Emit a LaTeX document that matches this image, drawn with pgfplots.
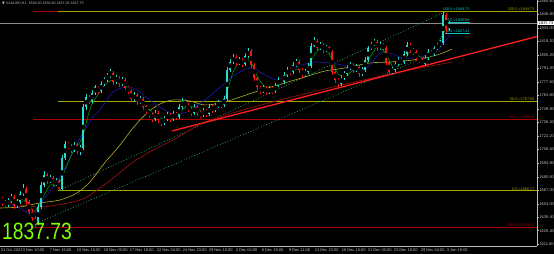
\documentclass[border=0pt]{standalone}
\usepackage{pgfplots}
\pgfplotsset{compat=1.18}
\usepackage{pgfplotstable}
\usepackage{fontspec}
\setmainfont{Liberation Sans}
\newfontfamily\dejavu{DejaVu Sans}
\definecolor{fibY}{RGB}{165,165,0}
\definecolor{fibR}{RGB}{175,0,0}
\definecolor{maY}{RGB}{175,175,35}
\definecolor{maR}{RGB}{150,15,15}
\definecolor{maB}{RGB}{25,25,185}
\definecolor{maG}{RGB}{0,170,0}
\definecolor{cUp}{RGB}{40,220,210}
\definecolor{cDn}{RGB}{255,20,20}
\definecolor{trend}{RGB}{255,30,30}
\definecolor{dotG}{RGB}{50,160,90}
\definecolor{cfib}{RGB}{0,200,200}
\definecolor{lime}{RGB}{130,255,0}
\definecolor{axgray}{RGB}{190,190,190}
\definecolor{bidgray}{RGB}{140,140,140}

\pgfplotstableread{
x o h l c
2 1658 1660 1651 1655
5 1655 1657 1649 1652
8 1652 1659 1650 1656
11 1656 1663 1654 1660
14 1660 1662 1648 1651
17 1651 1658 1649 1655
20 1655 1666 1653 1663
23 1663 1673 1661 1668
26 1668 1670 1652 1655
29 1655 1657 1642 1645
32 1645 1648 1635 1638
35 1638 1640 1629.12 1633
38 1633 1653 1631 1650
41 1650 1675 1648 1672
44 1672 1686 1670 1682
47 1682 1684 1673 1676
50 1676 1682 1674 1679
53 1679 1681 1670 1673
56 1673 1679 1671 1676
59 1676 1678 1666.17 1668
62 1668 1703 1667 1700
65 1700 1717 1698 1714
68 1714 1716 1709 1712
71 1712 1714 1705 1708
74 1708 1716 1706 1713
77 1713 1715 1704 1707
80 1707 1713 1703 1710
83 1710 1755 1708 1752
86 1752 1765 1749 1762
89 1762 1764 1755 1758
92 1758 1769 1756 1766
95 1766 1775 1764 1772
98 1772 1774 1765 1768
101 1768 1779 1766 1776
104 1776 1783 1774 1780
107 1780 1787 1778 1784
110 1784 1791 1782 1787
113 1787 1789 1775 1778
116 1778 1785 1776 1782
119 1782 1784 1773 1776
122 1776 1783 1774 1780
125 1780 1782 1769 1772
128 1772 1774 1765 1768
131 1768 1770 1757 1760
134 1760 1767 1758 1764
137 1764 1766 1754 1757
140 1757 1763 1755 1760
143 1760 1762 1749 1752
146 1752 1754 1745 1748
149 1748 1750 1741 1744
152 1744 1746 1737 1740
155 1740 1749 1738 1746
158 1746 1748 1736 1739
161 1739 1741 1733 1736
164 1736 1743 1734 1740
167 1740 1747 1738 1744
170 1744 1746 1737 1740
173 1740 1748 1738 1745
176 1745 1747 1739 1742
179 1742 1755 1740 1752
182 1752 1761 1750 1758
185 1758 1760 1751 1754
188 1754 1756 1747 1750
191 1750 1752 1743 1746
194 1746 1755 1744 1752
197 1752 1754 1743 1746
200 1746 1748 1741 1744
203 1744 1751 1742 1748
206 1748 1750 1742 1745
209 1745 1755 1743 1752
212 1752 1754 1746 1749
215 1749 1756 1747 1753
218 1753 1759 1751 1756
221 1756 1758 1751 1754
224 1754 1763 1752 1760
227 1760 1793 1758 1790
230 1790 1801 1788 1798
233 1798 1806 1796 1803
236 1803 1805 1794 1797
239 1797 1803 1795 1800
242 1800 1802 1793 1796
245 1796 1807 1794 1804
248 1804 1812 1802 1809
251 1809 1811 1792 1795
254 1795 1797 1779 1782
257 1782 1784 1769 1772
260 1772 1774 1765 1768
263 1768 1775 1766 1772
266 1772 1774 1764 1767
269 1767 1774 1765 1771
272 1771 1773 1765 1768
275 1768 1777 1766 1774
278 1774 1783 1772 1780
281 1780 1782 1775 1778
284 1778 1788 1776 1785
287 1785 1793 1783 1790
290 1790 1792 1785 1788
293 1788 1798 1786 1795
296 1795 1801 1793 1798
299 1798 1800 1787 1790
302 1790 1792 1782 1785
305 1785 1791 1783 1788
308 1788 1797 1786 1794
311 1794 1818 1792 1815
314 1815 1824 1813 1820
317 1820 1822 1809 1812
320 1812 1819 1810 1816
323 1816 1818 1807 1810
326 1810 1816 1808 1813
329 1813 1815 1805 1808
332 1808 1810 1785 1788
335 1788 1790 1777 1780
338 1780 1782 1773 1776
341 1776 1785 1774 1782
344 1782 1789 1780 1786
347 1786 1795 1784 1792
350 1792 1798 1790 1795
353 1795 1797 1787 1790
356 1790 1796 1788 1793
359 1793 1795 1783 1786
362 1786 1793 1784 1790
365 1790 1803 1788 1800
368 1800 1815 1798 1812
371 1812 1819 1810 1816
374 1816 1822 1814 1819
377 1819 1821 1809 1812
380 1812 1819 1810 1816
383 1816 1818 1809 1812
386 1812 1814 1795 1798
389 1798 1800 1785 1788
392 1788 1793 1786 1790
395 1790 1799 1788 1796
398 1796 1803 1794 1800
401 1800 1802 1795 1798
404 1798 1809 1796 1806
407 1806 1819 1804 1816
410 1816 1818 1807 1810
413 1810 1812 1805 1808
416 1808 1810 1799 1802
419 1802 1804 1797 1800
422 1800 1802 1793 1796
425 1796 1805 1794 1802
428 1802 1811 1800 1808
431 1808 1810 1803 1806
434 1806 1815 1804 1812
437 1812 1818 1810 1815
440 1815 1821 1813 1818
443 1818 1849.73 1816 1846
446 1846 1848 1827.43 1832
449 1832 1840 1830 1837.73
}\candles

\begin{document}
\begin{tikzpicture}
\fill[black] (0,-8pt) rectangle (554pt,246pt);
\useasboundingbox (0,-8pt) rectangle (554pt,246pt);
\begin{axis}[
  at={(0,0)}, anchor=south west,
  width=537pt, height=246pt, scale only axis,
  xmin=0, xmax=537, ymin=1609.7, ymax=1861.6,
  axis x line*=bottom, axis y line*=right,
  axis line style={draw=axgray, line width=0.5pt, -},
  tick style={draw=axgray, line width=0.4pt},
  tick align=outside, major tick length=1.5pt,
  clip=false,
  xtick={0,22,49,76,103,129,156,182,208,235,261,288,314,341,367,393,420,446},
  xticklabels={31 Oct 2023, 3 Nov 10:00, 7 Nov 15:00, 10 Nov 15:00, 15 Nov 00:00, 17 Nov 19:00, 22 Nov 04:00, 24 Nov 23:00, 29 Nov 15:00, 2 Dec 04:00, 6 Dec 19:00, 9 Dec 11:00, 13 Dec 23:00, 16 Dec 15:00, 21 Dec 00:00, 23 Dec 19:00, 29 Dec 04:00, 3 Jan 19:00},
  xticklabel style={anchor=north west, inner sep=0.6pt, font=\fontsize{4}{4.5}\selectfont, text=axgray},
  ytick={1611.8,1625.4,1639.4,1653.0,1667.0,1680.6,1694.8,1708.4,1722.2,1736.2,1749.8,1763.8,1777.6,1791.4,1805.2,1819.2,1833.0,1846.8,1860.6},
  yticklabel style={anchor=west, inner sep=0.8pt, font=\fontsize{4}{4.5}\selectfont, text=axgray,
    /pgf/number format/.cd, fixed, fixed zerofill, precision=2, 1000 sep={}, assume math mode=true},
]
% horizontal levels
\addplot[draw=fibR, line width=0.85pt] coordinates {(33,1849.73) (537,1849.73)};
\addplot[draw=fibR, line width=0.85pt] coordinates {(33,1739.43) (537,1739.43)};
\addplot[draw=fibR, line width=0.85pt] coordinates {(33,1629.12) (537,1629.12)};
\addplot[draw=fibY, line width=0.85pt] coordinates {(58,1849.73) (537,1849.73)};
\addplot[draw=fibY, line width=0.85pt] coordinates {(58,1757.95) (537,1757.95)};
\addplot[draw=fibY, line width=0.85pt] coordinates {(58,1666.17) (537,1666.17)};
\addplot[draw=bidgray, line width=0.6pt] coordinates {(0,1837.73) (537,1837.73)};
\addplot[draw=cfib, line width=0.5pt] coordinates {(445,1838.58) (470,1838.58)};
\addplot[draw=cfib, line width=0.5pt] coordinates {(445,1827.43) (470,1827.43)};
% channel dotted lines
\addplot[draw=dotG, dotted, line width=0.8pt] coordinates {(60,1667.1) (445,1849.3)};
\addplot[draw=dotG, dotted, line width=0.8pt] coordinates {(37,1633.3) (440,1810)};
% moving averages
\addplot[draw=maR, line width=0.7pt, smooth] coordinates {(0,1654.8) (40,1649.7) (80,1656.8) (100,1669.1) (117,1682.4) (133,1695.7) (153,1708) (173,1718.3) (185,1725.4) (205,1736.7) (250,1751) (300,1764.3) (350,1776.6) (400,1787.9) (452,1798.1)};
\addplot[draw=maY, line width=0.6pt, smooth] coordinates {(0,1648.6) (20,1649.7) (40,1653.8) (60,1656.8) (77,1664.0) (90,1675.3) (103,1692.7) (120,1713.1) (133,1730.6) (147,1745.9) (160,1755.1) (173,1759.2) (190,1758.2) (205,1754.1) (225,1757.2) (252,1766.4) (278,1774.6) (305,1782.8) (325,1788.9) (345,1792.0) (370,1797.1) (390,1798.1) (413,1800.2) (437,1805.3) (452,1811.4)};
\addplot[draw=maB, line width=0.6pt, smooth] coordinates {(0,1653.8) (20,1648.6) (33,1641.5) (43,1656.8) (58,1677.3) (70,1699.8) (80,1720.3) (93,1741.8) (100,1749) (113,1767.4) (127,1772.5) (137,1769.4) (147,1761.3) (160,1752) (173,1745) (185,1746) (205,1759.2) (225,1776.6) (238,1786.9) (252,1792) (265,1784.8) (278,1779.7) (292,1789.9) (302,1795) (315,1798.1) (328,1797.1) (342,1795) (358,1787.9) (370,1795) (380,1807.3) (390,1807.3) (403,1802.2) (420,1803.2) (437,1810.4) (450,1825.8)};
\addplot[draw=maG, line width=0.5pt, smooth] coordinates {(2,1656) (10,1655) (18,1657) (26,1656) (34,1645) (42,1658) (50,1672) (58,1672) (66,1690) (74,1708) (82,1720) (90,1750) (98,1765) (106,1776) (114,1780) (122,1778) (130,1768) (138,1760) (146,1752) (154,1745) (162,1740) (170,1741) (178,1745) (186,1752) (194,1752) (202,1748) (210,1749) (218,1753) (226,1765) (234,1790) (242,1799) (250,1800) (258,1782) (266,1772) (274,1772) (282,1780) (290,1788) (298,1791) (306,1789) (314,1805) (322,1813) (330,1805) (338,1786) (346,1784) (354,1790) (362,1789) (370,1803) (378,1814) (386,1806) (394,1792) (402,1798) (410,1808) (418,1805) (426,1800) (434,1810) (442,1825) (449,1838)};
% red trendline
\addplot[draw=trend, line width=1.3pt] coordinates {(172,1727.5) (537,1824.2)};
% candles: wicks
\addplot[only marks, mark=none, forget plot, error bars/.cd, y dir=both, y explicit, error mark=none, error bar style={cUp, line width=0.4pt}]
  table[x=x, y expr={\thisrow{c}<\thisrow{o} ? nan : (\thisrow{h}+\thisrow{l})/2}, y error expr={(\thisrow{h}-\thisrow{l})/2}] {\candles};
\addplot[only marks, mark=none, forget plot, error bars/.cd, y dir=both, y explicit, error mark=none, error bar style={cDn, line width=0.4pt}]
  table[x=x, y expr={\thisrow{c}<\thisrow{o} ? (\thisrow{h}+\thisrow{l})/2 : nan}, y error expr={(\thisrow{h}-\thisrow{l})/2}] {\candles};
% bodies
\addplot[only marks, mark=none, forget plot, error bars/.cd, y dir=both, y explicit, error mark=none, error bar style={cUp, line width=1.6pt}]
  table[x=x, y expr={\thisrow{c}<\thisrow{o} ? nan : (\thisrow{o}+\thisrow{c})/2}, y error expr={abs(\thisrow{c}-\thisrow{o})/2}] {\candles};
\addplot[only marks, mark=none, forget plot, error bars/.cd, y dir=both, y explicit, error mark=none, error bar style={cDn, line width=1.6pt}]
  table[x=x, y expr={\thisrow{c}<\thisrow{o} ? (\thisrow{o}+\thisrow{c})/2 : nan}, y error expr={abs(\thisrow{c}-\thisrow{o})/2}] {\candles};
% labels
\node[anchor=south east, inner sep=0.4pt, text=fibY, font=\fontsize{3.8}{4}\selectfont] at (axis cs:535,1849.73) {100.0 =1849.73};
\node[anchor=south east, inner sep=0.4pt, text=fibY, font=\fontsize{3.8}{4}\selectfont] at (axis cs:535,1757.95) {50.0 =1757.95};
\node[anchor=south east, inner sep=0.4pt, text=fibY, font=\fontsize{3.8}{4}\selectfont] at (axis cs:535,1666.17) {0.0 =1666.17};
\node[anchor=south east, inner sep=0.4pt, text=fibR, font=\fontsize{3.8}{4}\selectfont] at (axis cs:535,1739.43) {50.0 =1739.43};
\node[anchor=south east, inner sep=0.4pt, text=fibR, font=\fontsize{3.8}{4}\selectfont] at (axis cs:535,1629.12) {100.0 =1629.12};
\node[anchor=south east, inner sep=0.4pt, text=cfib, font=\fontsize{3.8}{4}\selectfont] at (axis cs:470,1849.73) {100.0 =1849.73};
\node[anchor=south east, inner sep=0.4pt, text=cfib, font=\fontsize{3.8}{4}\selectfont] at (axis cs:470,1838.58) {50.0 =1838.58};
\node[anchor=south east, inner sep=0.4pt, text=cfib, font=\fontsize{3.8}{4}\selectfont] at (axis cs:470,1827.43) {0.0 =1827.43};
\node[anchor=west, fill=white, text=black, inner sep=0.6pt, font=\fontsize{4}{4.5}\selectfont] at (axis cs:538,1837.73) {1837.73};
\node[anchor=west, inner sep=0pt, text=axgray, font=\fontsize{3.6}{4}\selectfont] at (axis cs:2,1858.5) {{\dejavu ▼} XAUUSD,H1\ \ 1838.20 1838.40 1837.36 1837.73};
\node[anchor=base west, inner sep=0pt, text=lime, xscale=0.82, font=\fontsize{23.5}{24}\selectfont] at (axis cs:2,1615.9) {1837.73};
\end{axis}
\end{tikzpicture}
\end{document}
